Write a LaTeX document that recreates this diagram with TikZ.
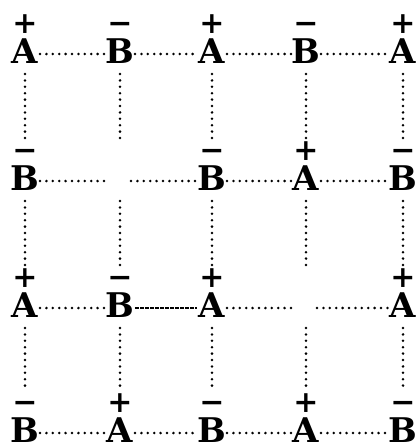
\documentclass[tikz,border=0pt]{standalone}
\usepackage{fontspec}
\usepackage{tikz}
\newfontfamily\ionfont{DejaVu Serif}

\begin{document}
\begin{tikzpicture}[
      x=1pt, y=1pt,
      ion/.style={inner sep=0pt, text depth=0pt, font=\ionfont\bfseries\fontsize{34}{34}\selectfont},
      sign/.style={inner sep=0pt, anchor=base, text depth=0pt, font=\ionfont\bfseries\fontsize{30}{30}\selectfont},
      label distance=5pt,
      psign/.style={label={[sign]above:+}},
      nsign/.style={label={[sign]above:−}},
      dotline/.style={draw, line width=2.8pt, line cap=round, dash pattern=on 0pt off 6.4pt},
      fullline/.style={draw, line width=2.2pt, dash pattern=on 4pt off 1pt},
      hline/.style={shorten <=15pt, shorten >=15pt, transform canvas={yshift=-3pt}},
      vline/.style={shorten <=23pt, shorten >=40pt},
    ]
    \useasboundingbox (0,0) rectangle (419,-447);

    \node[ion, psign] (a11) at (25,-51) {A};
    \node[ion, nsign] (b12) at (120,-51) {B};
    \node[ion, psign] (a13) at (212,-51) {A};
    \node[ion, nsign] (b14) at (306,-51) {B};
    \node[ion, psign] (a15) at (403,-51) {A};

    \node[ion, nsign] (b21) at (25,-178) {B};
    \coordinate (e22) at (120,-178);
    \node[ion, nsign] (b23) at (212,-178) {B};
    \node[ion, psign] (a24) at (306,-178) {A};
    \node[ion, nsign] (b25) at (403,-178) {B};

    \node[ion, psign] (a31) at (25,-305) {A};
    \node[ion, nsign] (b32) at (120,-305) {B};
    \node[ion, psign] (a33) at (212,-305) {A};
    \coordinate (e34) at (306,-305);
    \node[ion, psign] (a35) at (403,-305) {A};

    \node[ion, nsign] (b41) at (25,-430) {B};
    \node[ion, psign] (a42) at (120,-430) {A};
    \node[ion, nsign] (b43) at (212,-430) {B};
    \node[ion, psign] (a44) at (306,-430) {A};
    \node[ion, nsign] (b45) at (403,-430) {B};

    \path[dotline, hline] (a11.center) -- (b12.center);
    \path[dotline, hline] (b12.center) -- (a13.center);
    \path[dotline, hline] (a13.center) -- (b14.center);
    \path[dotline, hline] (b14.center) -- (a15.center);
    \path[dotline, hline, shorten >=11pt] (b21.center) -- (e22.center);
    \path[dotline, hline, shorten <=11pt] (e22.center) -- (b23.center);
    \path[dotline, hline] (b23.center) -- (a24.center);
    \path[dotline, hline] (a24.center) -- (b25.center);
    \path[dotline, hline] (a31.center) -- (b32.center);
    \path[fullline, hline] (b32.center) -- (a33.center);
    \path[dotline, hline, shorten >=11pt] (a33.center) -- (e34.center);
    \path[dotline, hline, shorten <=11pt] (e34.center) -- (a35.center);
    \path[dotline, hline] (b41.center) -- (a42.center);
    \path[dotline, hline] (a42.center) -- (b43.center);
    \path[dotline, hline] (b43.center) -- (a44.center);
    \path[dotline, hline] (a44.center) -- (b45.center);

    \path[dotline, vline] (a11.center) -- (b21.center);
    \path[dotline, vline] (b21.center) -- (a31.center);
    \path[dotline, vline] (a31.center) -- (b41.center);
    \path[dotline, vline] (b12.center) -- (e22.center);
    \path[dotline, vline] (e22.center) -- (b32.center);
    \path[dotline, vline] (b32.center) -- (a42.center);
    \path[dotline, vline] (a13.center) -- (b23.center);
    \path[dotline, vline] (b23.center) -- (a33.center);
    \path[dotline, vline] (a33.center) -- (b43.center);
    \path[dotline, vline] (b14.center) -- (a24.center);
    \path[dotline, vline] (a24.center) -- (e34.center);
    \path[dotline, vline] (e34.center) -- (a44.center);
    \path[dotline, vline] (a15.center) -- (b25.center);
    \path[dotline, vline] (b25.center) -- (a35.center);
    \path[dotline, vline] (a35.center) -- (b45.center);
\end{tikzpicture}
\end{document}
